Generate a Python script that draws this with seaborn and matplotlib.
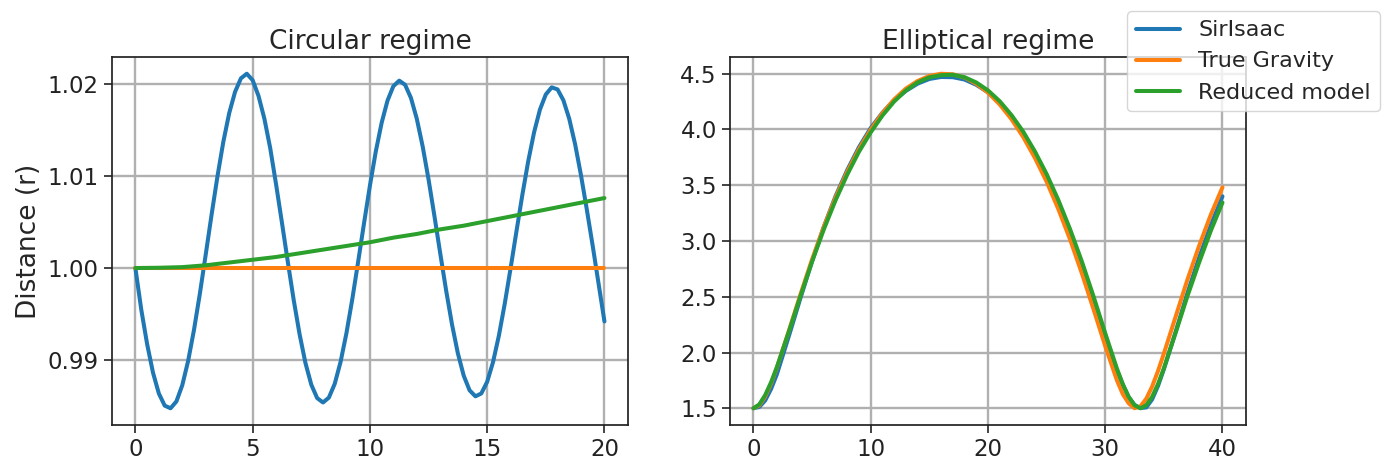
import matplotlib
matplotlib.use("Agg")
import matplotlib.pyplot as plt
import seaborn as sns

# ---- Circular regime: distance r over time ----
t_circ = [0.0, 0.25, 0.5, 0.75, 1.0, 1.25, 1.5, 1.75, 2.0, 2.25, 2.5, 2.75,
          3.0, 3.25, 3.5, 3.75, 4.0, 4.25, 4.5, 4.75, 5.0, 5.25, 5.5, 5.75,
          6.0, 6.25, 6.5, 6.75, 7.0, 7.25, 7.5, 7.75, 8.0, 8.25, 8.5, 8.75,
          9.0, 9.25, 9.5, 9.75, 10.0, 10.25, 10.5, 10.75, 11.0, 11.25, 11.5, 11.75,
          12.0, 12.25, 12.5, 12.75, 13.0, 13.25, 13.5, 13.75, 14.0, 14.25, 14.5, 14.75,
          15.0, 15.25, 15.5, 15.75, 16.0, 16.25, 16.5, 16.75, 17.0, 17.25, 17.5, 17.75,
          18.0, 18.25, 18.5, 18.75, 19.0, 19.25, 19.5, 19.75, 20.0]
circ_sirisaac = [1.0000, 0.99550, 0.99175, 0.98865, 0.98638, 0.98506, 0.98477, 0.98552,
                 0.98728, 0.98992, 0.99330, 0.99723, 1.00148, 1.00581, 1.00996, 1.01371,
                 1.01682, 1.01913, 1.02060, 1.02110, 1.02040, 1.01869, 1.01622, 1.01301,
                 1.00907, 1.00491, 1.00066, 0.99654, 0.99283, 0.98970, 0.98734, 0.98588,
                 0.98540, 0.98593, 0.98743, 0.98982, 0.99294, 0.99664, 1.00071, 1.00488,
                 1.00894, 1.01265, 1.01577, 1.01818, 1.01975, 1.02035, 1.01990, 1.01847,
                 1.01620, 1.01320, 1.00963, 1.00566, 1.00157, 0.99756, 0.99388, 0.99074,
                 0.98831, 0.98672, 0.98607, 0.98638, 0.98765, 0.98979, 0.99267, 0.99614,
                 1.00000, 1.00401, 1.00795, 1.01160, 1.01474, 1.01721, 1.01885, 1.01962,
                 1.01940, 1.01822, 1.01620, 1.01344, 1.01008, 1.00633, 1.00240, 0.99830,
                 0.99420]
t_circ_coarse = [0, 1, 2, 3, 4, 5, 6, 7, 8, 9, 10, 11, 12, 13, 14, 15, 16, 17, 18, 19, 20]
circ_true = [1.0] * 21
circ_reduced = [1.0000, 1.00003, 1.0001, 1.0003, 1.0006, 1.0009, 1.0012, 1.0016, 1.0020,
                1.0024, 1.0028, 1.0033, 1.0037, 1.0042, 1.0046, 1.0051, 1.0056, 1.0061,
                1.0066, 1.0071, 1.0076]

# ---- Elliptical regime: distance r over time ----
t_ell = [0, 0.5, 1, 1.5, 2, 3, 4, 5, 6, 7, 8, 9, 10, 11, 12, 13, 14, 15, 16, 17, 18,
         19, 20, 21, 22, 23, 24, 25, 26, 27, 28, 29, 30, 31, 31.5, 32, 32.5, 33, 33.5,
         34, 34.5, 35, 36, 37, 38, 39, 40]
ell_sirisaac = [1.500, 1.512, 1.570, 1.672, 1.805, 2.140, 2.485, 2.818, 3.126, 3.401,
                3.636, 3.841, 4.012, 4.150, 4.262, 4.345, 4.410, 4.452, 4.470, 4.468,
                4.447, 4.400, 4.333, 4.238, 4.115, 3.965, 3.790, 3.585, 3.350, 3.085,
                2.795, 2.480, 2.150, 1.840, 1.712, 1.600, 1.530, 1.502, 1.508, 1.580,
                1.700, 1.850, 2.185, 2.530, 2.850, 3.140, 3.400]
ell_true = [1.500, 1.527, 1.605, 1.721, 1.865, 2.187, 2.518, 2.835, 3.126, 3.389,
            3.620, 3.824, 3.997, 4.146, 4.269, 4.366, 4.434, 4.479, 4.499, 4.494,
            4.465, 4.409, 4.330, 4.224, 4.092, 3.933, 3.745, 3.532, 3.286, 3.014,
            2.712, 2.389, 2.058, 1.750, 1.627, 1.545, 1.501, 1.517, 1.586, 1.695,
            1.834, 1.990, 2.320, 2.650, 2.954, 3.234, 3.481]
ell_reduced = [1.500, 1.535, 1.618, 1.732, 1.869, 2.181, 2.502, 2.815, 3.103, 3.364,
               3.595, 3.800, 3.973, 4.124, 4.250, 4.349, 4.421, 4.467, 4.486, 4.490,
               4.468, 4.421, 4.350, 4.253, 4.129, 3.981, 3.803, 3.600, 3.367, 3.106,
               2.818, 2.504, 2.173, 1.855, 1.716, 1.603, 1.527, 1.500, 1.527, 1.603,
               1.717, 1.858, 2.175, 2.502, 2.805, 3.090, 3.345]

series_labels = ["SirIsaac", "True Gravity", "Reduced model"]
series_colors = ["#1f77b4", "#ff7f0e", "#2ca02c"]

sns.set_theme(style="ticks", rc={
    "axes.edgecolor": "#222222",
    "axes.linewidth": 1.25,
    "grid.color": "#b0b0b0",
    "grid.linewidth": 1.7,
    "xtick.major.size": 6,
    "ytick.major.size": 6,
    "xtick.major.width": 1.2,
    "ytick.major.width": 1.2,
    "xtick.color": "#222222",
    "ytick.color": "#222222",
})
plt.rcParams["font.family"] = ["DejaVu Sans"]

fig = plt.figure(figsize=(13.87, 4.70), dpi=100)
ax1 = fig.add_axes([0.0807, 0.0957, 0.3720, 0.7830])
ax2 = fig.add_axes([0.5263, 0.0957, 0.3720, 0.7830])

lw = 2.9
sns.lineplot(x=t_circ, y=circ_sirisaac, ax=ax1, color=series_colors[0], lw=lw, legend=False)
sns.lineplot(x=t_circ_coarse, y=circ_true, ax=ax1, color=series_colors[1], lw=lw, legend=False)
sns.lineplot(x=t_circ_coarse, y=circ_reduced, ax=ax1, color=series_colors[2], lw=lw, legend=False)

sns.lineplot(x=t_ell, y=ell_sirisaac, ax=ax2, color=series_colors[0], lw=lw, legend=False)
sns.lineplot(x=t_ell, y=ell_true, ax=ax2, color=series_colors[1], lw=lw, legend=False)
sns.lineplot(x=t_ell, y=ell_reduced, ax=ax2, color=series_colors[2], lw=lw, legend=False)

ax1.set_title("Circular regime", fontsize=19)
ax2.set_title("Elliptical regime", fontsize=19)
ax1.set_ylabel("Distance (r)", fontsize=19)
ax1.set_xticks([0, 5, 10, 15, 20])
ax2.set_xticks([0, 10, 20, 30, 40])
ax1.set_yticks([0.99, 1.00, 1.01, 1.02])
ax2.set_yticks([1.5, 2.0, 2.5, 3.0, 3.5, 4.0, 4.5])

for ax in (ax1, ax2):
    ax.grid(True)
    ax.tick_params(labelsize=16.5)
    for side in ("top", "right", "left", "bottom"):
        ax.spines[side].set_visible(True)

handles = ax2.get_lines()[:3]
fig.legend(handles, series_labels, loc="upper right", bbox_to_anchor=(0.998, 0.985),
           fontsize=16, frameon=True, borderaxespad=0.2)

fig.savefig("out.png", dpi=100)
